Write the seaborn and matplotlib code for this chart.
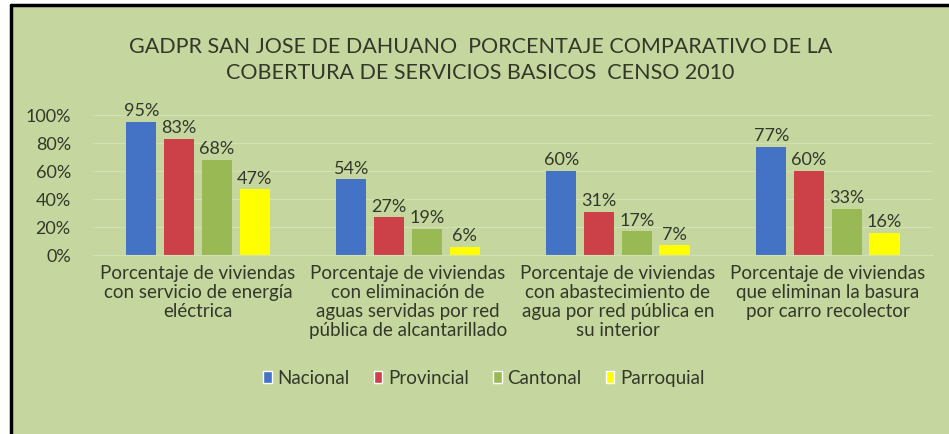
import pandas as pd
import matplotlib.pyplot as plt
import seaborn as sns
from matplotlib.patches import Rectangle
from matplotlib.lines import Line2D

# Datos (censo 2010)
categorias = [
    "Porcentaje de viviendas\ncon servicio de energía\neléctrica",
    "Porcentaje de viviendas\ncon eliminación de\naguas servidas por red\npública de alcantarillado",
    "Porcentaje de viviendas\ncon abastecimiento de\nagua por red pública en\nsu interior",
    "Porcentaje de viviendas\nque eliminan la basura\npor carro recolector",
]
niveles = ["Nacional", "Provincial", "Cantonal", "Parroquial"]
nacional = [0.95, 0.54, 0.60, 0.77]
provincial = [0.83, 0.27, 0.31, 0.60]
cantonal = [0.68, 0.19, 0.17, 0.33]
parroquial = [0.47, 0.06, 0.07, 0.16]
ticks_y = [0, 0.2, 0.4, 0.6, 0.8, 1.0]
colores = ["#4472C4", "#CC4148", "#98B954", "#FFFF00"]

series = [nacional, provincial, cantonal, parroquial]
df = pd.DataFrame([
    {"categoria": c, "nivel": n, "valor": v}
    for n, vals in zip(niveles, series)
    for c, v in zip(categorias, vals)
])

sns.set_style("white")
plt.rcParams["font.family"] = ["Lato", "DejaVu Sans"]
fondo = "#C5D79E"
texto = "#33382A"

fig = plt.figure(figsize=(9.49, 4.34), dpi=100, facecolor="white")
# panel verde con marco negro a la izquierda y arriba
fig.patches.append(Rectangle((11 / 949, 0), 1, 1 - 6 / 434, transform=fig.transFigure,
                             facecolor=fondo, edgecolor="none", zorder=-10))
fig.lines.append(Line2D([10.5 / 949, 10.5 / 949], [0, 1 - 4.5 / 434], transform=fig.transFigure,
                        color="black", lw=2.5, zorder=-5))
fig.lines.append(Line2D([10.5 / 949, 1], [1 - 4.5 / 434, 1 - 4.5 / 434], transform=fig.transFigure,
                        color="black", lw=2.5, zorder=-5))

ax = fig.add_axes([0.098, 0.412, 0.885, 0.323])
ax.set_facecolor("none")

sns.barplot(data=df, x="categoria", y="valor", hue="nivel", hue_order=niveles,
            order=categorias, palette=colores, width=0.72, gap=0.2, ax=ax,
            legend=False, saturation=1, linewidth=0)

for cont, vals in zip(ax.containers, series):
    ax.bar_label(cont, labels=[f"{round(v * 100)}%" for v in vals], padding=2,
                 fontsize=13, color=texto)

ax.set_ylim(0, 1.0)
ax.set_yticks(ticks_y)
ax.set_yticklabels([f"{int(t * 100)}%" for t in ticks_y], fontsize=13, color=texto)
ax.yaxis.grid(True, color="#D3E0B5", lw=0.8)
ax.set_axisbelow(True)
ax.set_xticks(range(len(categorias)))
ax.set_xticklabels(categorias, fontsize=13.5, color=texto, linespacing=1.15)
ax.tick_params(axis="y", length=0, pad=16)
ax.tick_params(axis="x", length=0, pad=7)
ax.set_xlabel("")
ax.set_ylabel("")
sns.despine(ax=ax, left=True, top=True, right=True)
ax.spines["bottom"].set_color("#D3E0B5")

fig.text(0.506, 0.862, "GADPR SAN JOSE DE DAHUANO  PORCENTAJE COMPARATIVO DE LA\nCOBERTURA DE SERVICIOS BASICOS  CENSO 2010",
         ha="center", va="center", fontsize=15.5, color=texto, linespacing=1.4)

handles = [Rectangle((0, 0), 1, 1, facecolor=c) for c in colores]
fig.legend(handles, niveles, loc="center", bbox_to_anchor=(0.51, 0.129), ncol=4,
           frameon=False, fontsize=13.5, handlelength=0.45, handleheight=0.6,
           handletextpad=0.3, columnspacing=1.3, labelcolor=texto)

fig.savefig("out.png", dpi=100, facecolor=fig.get_facecolor())
